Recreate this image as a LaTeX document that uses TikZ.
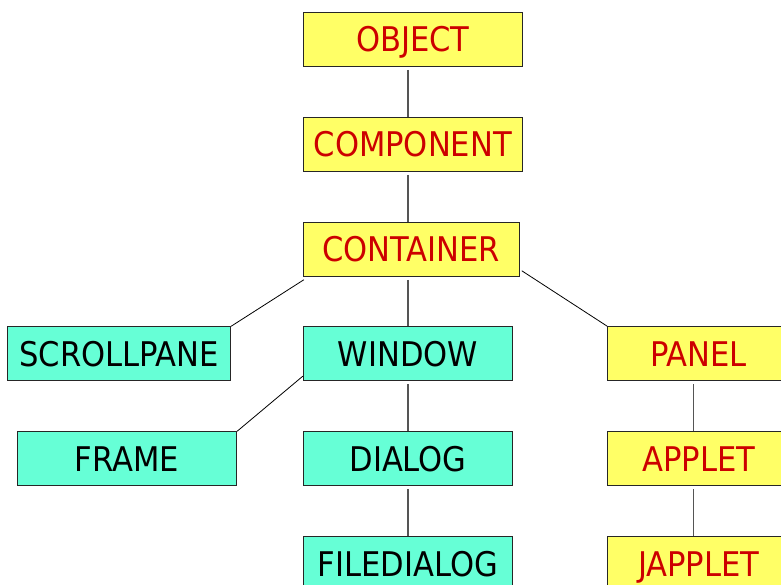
\documentclass[tikz,border=0pt]{standalone}
\usepackage{fontspec}
\setmainfont{DejaVu Sans Condensed}
\definecolor{boxyellow}{HTML}{FFFF66}
\definecolor{boxcyan}{HTML}{66FFD6}
\definecolor{txtred}{HTML}{CC0000}
\definecolor{vgrey}{HTML}{555555}
\tikzset{
  cls/.style={draw=black!85, line width=0.9pt, inner sep=0pt, minimum height=54pt,
    font=\fontsize{34}{34}\selectfont, text height=24.8pt, text depth=0pt, align=center},
  ybox/.style={cls, fill=boxyellow, text=txtred},
  cbox/.style={cls, fill=boxcyan, text=black},
  vline/.style={draw=vgrey, line width=1.2pt, shorten <=3pt},
  dline/.style={draw=black, line width=0.8pt}
}
\begin{document}
\begin{tikzpicture}[x=1pt,y=-1pt]
\useasboundingbox (0,0) rectangle (781,585);
\clip (0,0) rectangle (781,585);
\node[ybox, minimum width=218.5pt] (object)    at (412.8,39.5)  {OBJECT};
\node[ybox, minimum width=218.5pt] (component) at (412.8,144.5) {COMPONENT};
\node[ybox, minimum width=216pt]   (container) at (411.3,249.3) {CONTAINER};
\node[cbox, minimum width=223pt]   (scrollpane) at (119.2,353.7) {SCROLLPANE};
\node[cbox, minimum width=209.4pt] (window)    at (408,353.7)  {WINDOW};
\node[ybox, minimum width=182pt]   (panel)     at (698.7,353.7) {PANEL};
\node[cbox, minimum width=219.4pt] (frame)     at (127,458.7)  {FRAME};
\node[cbox, minimum width=209.4pt] (dialog)    at (408,458.7)  {DIALOG};
\node[ybox, minimum width=182pt]   (applet)    at (698.7,458.7) {APPLET};
\node[cbox, minimum width=209.4pt] (filedialog) at (408,563.7) {FILEDIALOG};
\node[ybox, minimum width=182pt]   (japplet)   at (698.7,563.7) {JAPPLET};

\draw[vline] (object.south -| window.center) -- (component.north -| window.center);
\draw[vline] (component.south -| window.center) -- (container.north -| window.center);
\draw[vline] (container.south -| window.center) -- (window.north);
\draw[vline] (window.south) -- (dialog.north);
\draw[vline] (dialog.south) -- (filedialog.north);
\draw[vline] ([xshift=86.3pt]panel.south west) -- ([xshift=86.3pt]applet.north west);
\draw[vline] ([xshift=86.3pt]applet.south west) -- ([xshift=86.3pt]japplet.north west);
\draw[dline] ([shift={(1,3)}]container.south west) -- (scrollpane.north east);
\draw[dline] ([shift={(2,-6)}]container.south east) -- (panel.north west);
\draw[dline] ([shift={(0,-5)}]window.south west) -- (frame.north east);
\end{tikzpicture}
\end{document}
